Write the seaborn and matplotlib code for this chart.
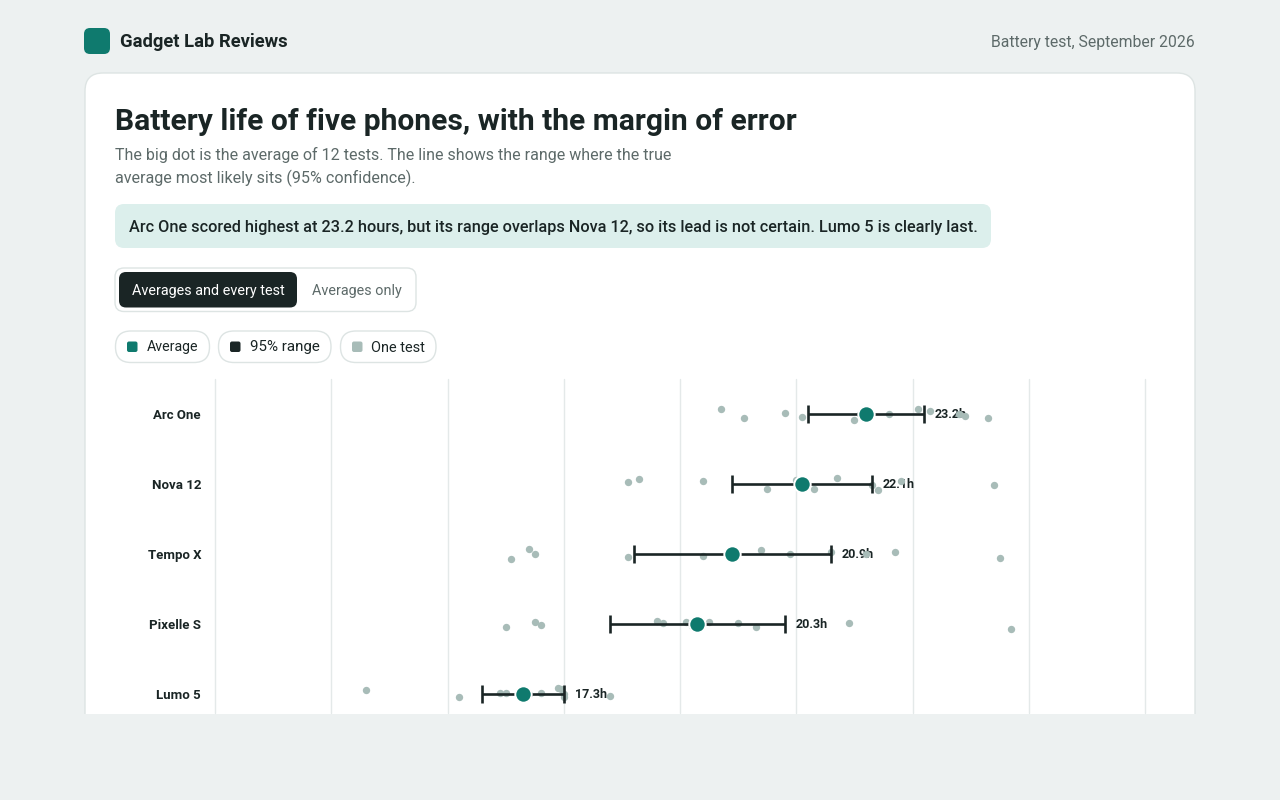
import numpy as np
import pandas as pd
import matplotlib
matplotlib.use("Agg")
import matplotlib.pyplot as plt
import seaborn as sns
from matplotlib.patches import FancyBboxPatch, Rectangle

# ---------------- data ----------------
phones = ["Arc One", "Nova 12", "Tempo X", "Pixelle S", "Lumo 5"]
mean_hours = [23.2, 22.1, 20.9, 20.3, 17.3]
ci_low = [22.2, 20.9, 19.2, 18.8, 16.6]
ci_high = [24.2, 23.3, 22.6, 21.8, 18.0]

arc_one_tests = [20.7, 21.1, 21.8, 22.1, 23.0, 23.1, 23.6, 24.1, 24.3, 24.8, 24.9, 25.3]
nova_12_tests = [19.1, 19.3, 20.4, 21.5, 22.0, 22.1, 22.3, 22.7, 23.3, 23.4, 23.8, 25.4]
tempo_x_tests = [17.1, 17.4, 17.5, 19.1, 20.4, 20.8, 21.4, 21.9, 22.6, 23.2, 23.7, 25.5]
pixelle_s_tests = [17.0, 17.5, 17.6, 19.6, 19.7, 20.1, 20.2, 20.5, 21.0, 21.3, 22.9, 25.7]
lumo_5_tests = [14.6, 16.2, 16.9, 17.0, 17.3, 17.4, 17.6, 17.9, 17.95, 18.0, 18.0, 18.8]

x_ticks = [12, 14, 16, 18, 20, 22, 24, 26, 28]

brand = "Gadget Lab Reviews"
dateline = "Battery test, September 2026"
title = "Battery life of five phones, with the margin of error"
subtitle = ["The big dot is the average of 12 tests. The line shows the range where the true",
            "average most likely sits (95% confidence)."]
callout = ("Arc One scored highest at 23.2 hours, but its range overlaps Nova 12, "
           "so its lead is not certain. Lumo 5 is clearly last.")
toggle_labels = ["Averages and every test", "Averages only"]
legend_labels = ["Average", "95% range", "One test"]

# ---------------- frames ----------------
tests = pd.DataFrame({
    "phone": np.repeat(phones, 12),
    "hours": arc_one_tests + nova_12_tests + tempo_x_tests + pixelle_s_tests + lumo_5_tests,
})
summary = pd.DataFrame({"phone": phones, "mean": mean_hours, "lo": ci_low, "hi": ci_high})

# ---------------- style ----------------
PAGE = "#edf1f1"
CARD_EDGE = "#dde4e3"
TEAL = "#0f7a6e"
DARK = "#1a2525"
MUTED = "#5d6a69"
DOT = "#a8bcb8"
GRID = "#e4e9e9"
CALLOUT = "#dcefec"

sns.set_theme(style="white")
plt.rcParams["font.family"] = ["Roboto", "DejaVu Sans"]

fig = plt.figure(figsize=(12.8, 8), dpi=100, facecolor=PAGE)
renderer = fig.canvas.get_renderer()

bg = fig.add_axes([0, 0, 1, 1], zorder=0)
bg.set_xlim(0, 1280)
bg.set_ylim(800, 0)
bg.axis("off")


def rbox(x0, y0, x1, y1, r, fc, ec="none", lw=1.0, z=1):
    p = FancyBboxPatch((x0, y0), x1 - x0, y1 - y0,
                       boxstyle=f"round,pad=0,rounding_size={r}",
                       fc=fc, ec=ec, lw=lw, zorder=z)
    bg.add_patch(p)
    return p


def fit_text(x, y, s, width, size, ha="left", **kw):
    t = bg.text(x, y, s, fontsize=size, ha=ha, va="baseline", zorder=5, **kw)
    w = t.get_window_extent(renderer).width
    t.set_fontsize(size * width / w)
    return t


# card
rbox(85, 73, 1195, 790, 18, "white", CARD_EDGE, 1.0, z=1)
bg.add_patch(Rectangle((0, 713.5), 1280, 90, fc=PAGE, ec="none", zorder=2))

# header
rbox(84, 28, 110, 54, 6, TEAL, z=3)
fit_text(120, 47, brand, 167, 13, weight="bold", color=DARK)
fit_text(1195, 47, dateline, 203, 11, ha="right", color=MUTED)

# title block
fit_text(115, 129.5, title, 682, 21, weight="bold", color=DARK)
fit_text(115, 160, subtitle[0], 558, 11.5, color=MUTED)
fit_text(115, 183.5, subtitle[1], 302, 11.5, color=MUTED)

# callout
rbox(115, 204, 991, 248, 9, CALLOUT, z=3)
fit_text(129, 232, callout, 847, 12, weight="medium", color=DARK)

# toggle
rbox(115, 268, 416, 311.5, 9, "white", CARD_EDGE, 1.0, z=3)
rbox(119, 272, 297, 307.5, 7, DARK, z=4)
fit_text(131.5, 295, toggle_labels[0], 152.5, 11, color="white")
fit_text(312, 295, toggle_labels[1], 89.5, 11, color=MUTED)

# legend pills
pill_x = [(115.5, 209.5), (218.5, 331), (340.5, 436)]
sw_x = [127, 230, 352]
txt_x = [(146.5, 198), (249.5, 319.5), (371, 425)]
sw_col = [TEAL, DARK, DOT]
for (a, b), sx, (t0, t1), c, lab in zip(pill_x, sw_x, txt_x, sw_col, legend_labels):
    rbox(a, 331, b, 362.5, 15.5, "white", CARD_EDGE, 1.0, z=3)
    rbox(sx, 341.5, sx + 10.5, 352, 2, c, z=4)
    fit_text(t0, 351.5, lab, t1 - t0, 11, color=DARK)

# ---------------- chart ----------------
L, R, T, B = 215, 1145, 379, 713
ax = fig.add_axes([L / 1280, 1 - B / 800, (R - L) / 1280, (B - T) / 800], zorder=3)
ax.set_facecolor("none")

np.random.seed(7)
sns.stripplot(data=tests, x="hours", y="phone", order=phones, color=DOT,
              size=5.3, jitter=0.09, linewidth=0, ax=ax, zorder=3)

ypos = {lab.get_text(): tk for tk, lab in zip(ax.get_yticks(), ax.get_yticklabels())}
ys = np.array([ypos[p] for p in summary["phone"]])
m = summary["mean"].to_numpy()
ax.errorbar(m, ys, xerr=[m - summary["lo"].to_numpy(), summary["hi"].to_numpy() - m],
            fmt="none", ecolor=DARK, elinewidth=1.9, capsize=6.3, capthick=1.9, zorder=4)

sns.stripplot(data=summary, x="mean", y="phone", order=phones, jitter=False,
              color=TEAL, size=11.8, edgecolor="white", linewidth=1.4, ax=ax, zorder=5)

for hi, y, mv in zip(summary["hi"], ys, m):
    ax.annotate(f"{mv:.1f}h", xy=(hi, y), xytext=(7.8, 0), textcoords="offset points",
                ha="left", va="center", fontsize=9, weight="bold", color=DARK, zorder=2)

ax.set_xlim(x_ticks[0], x_ticks[-1])
ax.set_ylim(len(phones) - 1 + 19 / 70, -0.5)
ax.set_xticks(x_ticks)
ax.set_xticklabels([])
ax.grid(axis="x", color=GRID, lw=1.0)
ax.grid(axis="y", visible=False)
for gl in ax.get_xgridlines():
    gl.set_clip_on(False)
ax.set_axisbelow(True)
for s in ax.spines.values():
    s.set_visible(False)
ax.tick_params(axis="both", length=0)
ax.tick_params(axis="y", pad=10)
ax.set_xlabel("")
ax.set_ylabel("")
for lab in ax.get_yticklabels():
    lab.set_fontweight("bold")
    lab.set_fontsize(9.5)
    lab.set_color(DARK)

fig.savefig("out.png", dpi=100, facecolor=PAGE)
